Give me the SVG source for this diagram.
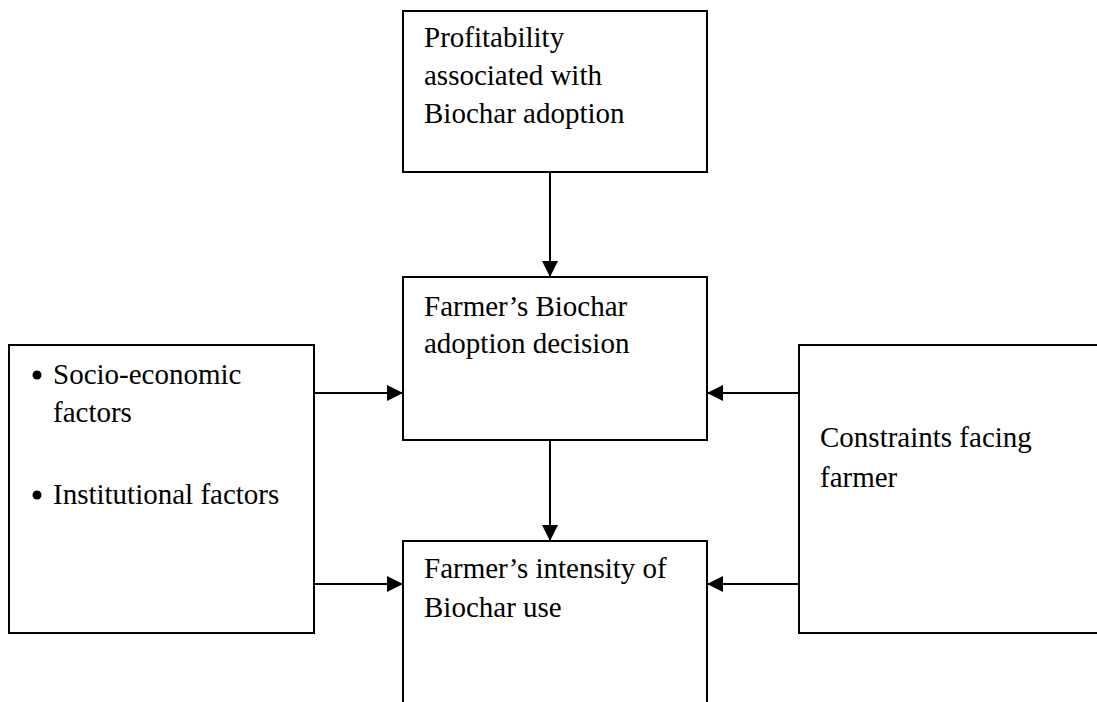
<svg xmlns="http://www.w3.org/2000/svg" width="1097" height="702" viewBox="0 0 1097 702">
<style>
.box{fill:#fff;stroke:#000;stroke-width:2}
.t{font-family:"Liberation Serif","Times New Roman",serif;font-size:29px;fill:#000}
.c{stroke:#000;stroke-width:2;fill:none}
</style>
<defs>
<marker id="ah" markerWidth="16" markerHeight="16" refX="16" refY="8" orient="auto" markerUnits="userSpaceOnUse">
<path d="M0,0 L16,8 L0,16 Z" fill="#000"/>
</marker>
</defs>
<rect width="1097" height="702" fill="#fff"/>
<g id="profitability">
<rect class="box" x="403" y="11" width="304" height="161"/>
<text class="t" x="424" y="47">Profitability</text>
<text class="t" x="424" y="85">associated with</text>
<text class="t" x="424" y="123">Biochar adoption</text>
</g>
<g id="adoption">
<rect class="box" x="403" y="277" width="304" height="163"/>
<text class="t" x="424" y="316">Farmer’s Biochar</text>
<text class="t" x="424" y="353">adoption decision</text>
</g>
<g id="intensity">
<rect class="box" x="403" y="541" width="304" height="200"/>
<text class="t" x="424" y="578">Farmer’s intensity of</text>
<text class="t" x="424" y="617">Biochar use</text>
</g>
<g id="factors">
<rect class="box" x="9" y="345" width="305" height="288"/>
<circle cx="37" cy="375" r="4.5" fill="#000"/>
<text class="t" x="53" y="384">Socio-economic</text>
<text class="t" x="53" y="422">factors</text>
<circle cx="37" cy="495" r="4.5" fill="#000"/>
<text class="t" x="53" y="504">Institutional factors</text>
</g>
<g id="constraints">
<rect class="box" x="799" y="345" width="310" height="288"/>
<text class="t" x="820" y="447">Constraints facing</text>
<text class="t" x="820" y="487">farmer</text>
</g>
<g id="connectors">
<line class="c" x1="550" y1="172" x2="550" y2="277" marker-end="url(#ah)"/>
<line class="c" x1="550" y1="440" x2="550" y2="541" marker-end="url(#ah)"/>
<line class="c" x1="314" y1="393" x2="403" y2="393" marker-end="url(#ah)"/>
<line class="c" x1="314" y1="584" x2="403" y2="584" marker-end="url(#ah)"/>
<line class="c" x1="799" y1="393" x2="707" y2="393" marker-end="url(#ah)"/>
<line class="c" x1="799" y1="584" x2="707" y2="584" marker-end="url(#ah)"/>
</g>
</svg>
